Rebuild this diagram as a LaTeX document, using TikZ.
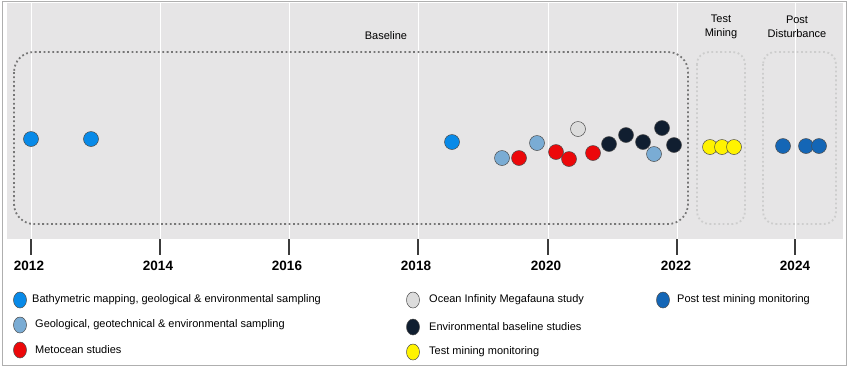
\documentclass[tikz,border=0pt]{standalone}
\usepackage{fontspec}
\setmainfont{Liberation Sans}
\usetikzlibrary{shapes.geometric}

\definecolor{panelgray}{RGB}{230,229,230}
\definecolor{framegray}{RGB}{175,175,175}
\definecolor{boxgray}{RGB}{118,118,118}
\definecolor{phasegray}{RGB}{205,205,205}
\definecolor{tickgray}{RGB}{60,60,60}
\definecolor{survblue}{RGB}{8,138,232}
\definecolor{geoblue}{RGB}{122,172,212}
\definecolor{metred}{RGB}{236,8,10}
\definecolor{megagray}{RGB}{220,220,220}
\definecolor{envnavy}{RGB}{16,30,48}
\definecolor{testyellow}{RGB}{255,243,0}
\definecolor{postblue}{RGB}{20,102,182}

\tikzset{
  event/.style={circle, draw=black!70, line width=0.5pt, minimum size=15pt, inner sep=0pt},
  keydot/.style={ellipse, draw=black!70, line width=0.5pt, minimum width=13pt, minimum height=16pt, inner sep=0pt},
  keytext/.style={anchor=west, inner sep=0pt, font=\fontsize{11}{13}\selectfont},
  year/.style={inner sep=0pt, font=\fontsize{13.5}{15}\selectfont\bfseries},
  phase/.style={align=center, inner sep=0pt, font=\fontsize{11}{13.5}\selectfont},
  yearline/.style={white, line width=1pt},
  yeartick/.style={tickgray, line width=1.1pt},
  basebox/.style={boxgray, line width=1.8pt, dash pattern=on 1.8pt off 2.6pt, rounded corners=20pt},
  phasebox/.style={phasegray, line width=1.8pt, dash pattern=on 1.8pt off 2.6pt, rounded corners=12pt}
}

\begin{document}
\begin{tikzpicture}[x=1pt, y=-1pt]
\useasboundingbox (0,0) rectangle (849,368);

\draw[framegray, line width=1pt] (2,1.5) rectangle (846,365);
\fill[panelgray] (7,3) rectangle (843,239);

% year grid
\draw[yearline] (31,3) -- (31,239)   (160,3) -- (160,239)   (289,3) -- (289,239)   (418,3) -- (418,239) ;
\draw[yearline] (548,3) -- (548,239)   (677,3) -- (677,239)   (795,3) -- (795,239) ;
\draw[yeartick] (31,239) -- (31,255)   (160,239) -- (160,255)   (289,239) -- (289,255)   (418,239) -- (418,255) ;
\draw[yeartick] (548,239) -- (548,255)   (677,239) -- (677,255)   (795,239) -- (795,255) ;

\draw (29,266) node[year] (y2012) {2012} ;
\draw (158,266) node[year] (y2014) {2014} ;
\draw (287,266) node[year] (y2016) {2016} ;
\draw (416,266) node[year] (y2018) {2018} ;
\draw (546,266) node[year] (y2020) {2020} ;
\draw (676,266) node[year] (y2022) {2022} ;
\draw (795,266) node[year] (y2024) {2024} ;

% phases
\draw[basebox] (14,52) rectangle (688,224) ;
\draw[phasebox] (697,52) rectangle (745,224) ;
\draw[phasebox] (763,52) rectangle (836,224) ;
\draw (386,36) node[phase] (baseline) {Baseline} ;
\draw (721,27) node[phase] (testmining) {Test\\Mining} ;
\draw (797,27) node[phase] (postdist) {Post\\Disturbance} ;

% events
\draw (31,139) node[event, fill=survblue] (s1) {} ;
\draw (91,139) node[event, fill=survblue] (s2) {} ;
\draw (452,142) node[event, fill=survblue] (s3) {} ;

\draw (502,158) node[event, fill=geoblue] (g1) {} ;
\draw (537,143) node[event, fill=geoblue] (g2) {} ;
\draw (654,154) node[event, fill=geoblue] (g3) {} ;

\draw (519,158) node[event, fill=metred] (m1) {} ;
\draw (556,152) node[event, fill=metred] (m2) {} ;
\draw (569,159) node[event, fill=metred] (m3) {} ;
\draw (593,153) node[event, fill=metred] (m4) {} ;

\draw (578,129) node[event, fill=megagray] (o1) {} ;

\draw (609,144) node[event, fill=envnavy] (e1) {} ;
\draw (626,135) node[event, fill=envnavy] (e2) {} ;
\draw (643,142) node[event, fill=envnavy] (e3) {} ;
\draw (662,128) node[event, fill=envnavy] (e4) {} ;
\draw (674,145) node[event, fill=envnavy] (e5) {} ;

\draw (710,147) node[event, fill=testyellow] (t1) {} ;
\draw (722,147) node[event, fill=testyellow] (t2) {} ;
\draw (734,147) node[event, fill=testyellow] (t3) {} ;

\draw (783,146) node[event, fill=postblue] (p1) {} ;
\draw (806,146) node[event, fill=postblue] (p2) {} ;
\draw (819,146) node[event, fill=postblue] (p3) {} ;

% key
\draw (20,300) node[keydot, fill=survblue] (ksurv) {} ;
\draw (32,300) node[keytext] (lsurv) {Bathymetric mapping, geological \& environmental sampling} ;
\draw (20,325) node[keydot, fill=geoblue] (kgeo) {} ;
\draw (35,325) node[keytext] (lgeo) {Geological, geotechnical \& environmental sampling} ;
\draw (20,350) node[keydot, fill=metred] (kmet) {} ;
\draw (35,350) node[keytext] (lmet) {Metocean studies} ;

\draw (413,300) node[keydot, fill=megagray] (kmega) {} ;
\draw (429,300) node[keytext] (lmega) {Ocean Infinity Megafauna study} ;
\draw (413,327) node[keydot, fill=envnavy] (kenv) {} ;
\draw (429,327) node[keytext] (lenv) {Environmental baseline studies} ;
\draw (413,352) node[keydot, fill=testyellow] (ktest) {} ;
\draw (429,352) node[keytext] (ltest) {Test mining monitoring} ;

\draw (663,300) node[keydot, fill=postblue] (kpost) {} ;
\draw (677,300) node[keytext] (lpost) {Post test mining monitoring} ;

\end{tikzpicture}
\end{document}
